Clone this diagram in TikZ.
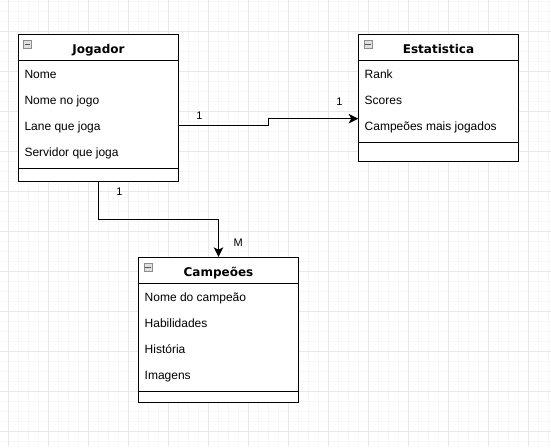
\documentclass[tikz,border=0pt]{standalone}
\usepackage{fontspec}
\setmainfont{Liberation Sans}
\newfontfamily\hdrfont{DejaVu Sans}
\usetikzlibrary{arrows.meta}
\definecolor{gridminor}{HTML}{F7F7F7}
\definecolor{gridmajor}{HTML}{E8E8E8}
\definecolor{iconborder}{HTML}{8C8C8C}
\definecolor{iconfill}{HTML}{E0E0E0}
\definecolor{iconminus}{HTML}{555555}
\begin{document}
\begin{tikzpicture}[x=1pt,y=-1pt,
  classbox/.style={draw=black,line width=1pt,fill=white,inner sep=0pt,minimum width=159.6pt},
  sepline/.style={draw=black,line width=1pt},
  attr/.style={anchor=base west,inner sep=0pt,font=\fontsize{12}{14}\selectfont},
  hdr/.style={anchor=base,inner sep=0pt,font=\hdrfont\bfseries\fontsize{12}{14}\selectfont},
  lbl/.style={inner sep=0pt,font=\fontsize{11}{13}\selectfont},
  conn/.style={draw=black,line width=1pt,-{Stealth[length=9.5pt,width=9.5pt,inset=2.5pt]}},
  icon/.style={draw=iconborder,line width=0.8pt,fill=iconfill,minimum size=8pt,inner sep=0pt,anchor=north west},
  minusline/.style={draw=iconminus,line width=1pt},
  gmin/.style={draw=gridminor,line width=1pt},
  gmaj/.style={draw=gridmajor,line width=1pt}
]
\useasboundingbox (0,0) rectangle (551,447);
\fill[white] (0,0) rectangle (551,447);
% grid
\foreach \k in {0,...,54} \draw[gmin] ({8.3+10*\k},0) -- ({8.3+10*\k},447);
\foreach \k in {0,...,44} \draw[gmin] (0,{1.7+10*\k}) -- (551,{1.7+10*\k});
\foreach \k in {0,...,13} \draw[gmaj] ({8.3+40*\k},0) -- ({8.3+40*\k},447);
\foreach \k in {0,...,10} \draw[gmaj] (0,{31.7+40*\k}) -- (551,{31.7+40*\k});

% Jogador
\node[classbox,minimum height=146.7pt] (jog) at (98.5,107.65) {};
\draw[sepline] (jog.west |- 0,60) -- (jog.east |- 0,60);
\draw[sepline] (jog.west |- 0,168.3) -- (jog.east |- 0,168.3);
\node[icon] (jogicon) at (23.3,40) {};
\draw[minusline] ([xshift=1.8pt]jogicon.west) -- ([xshift=-1.8pt]jogicon.east);
\node[hdr] (jogt) at (98.5,53) {Jogador};
\node[attr] (jog1) at (24.3,78.3) {Nome};
\node[attr] (jog2) at (24.3,104.3) {Nome no jogo};
\node[attr] (jog3) at (24.3,130.3) {Lane que joga};
\node[attr] (jog4) at (24.3,156.3) {Servidor que joga};

% Estatistica
\node[classbox,minimum height=126.7pt] (est) at (438.5,97.65) {};
\draw[sepline] (est.west |- 0,60) -- (est.east |- 0,60);
\draw[sepline] (est.west |- 0,142.3) -- (est.east |- 0,142.3);
\node[icon] (esticon) at (363.5,40) {};
\draw[minusline] ([xshift=1.8pt]esticon.west) -- ([xshift=-1.8pt]esticon.east);
\node[hdr] (estt) at (438.5,53) {Estatistica};
\node[attr] (est1) at (364.5,78.3) {Rank};
\node[attr] (est2) at (364.5,104.3) {Scores};
\node[attr] (est3) at (364.5,130.3) {Campeões mais jogados};

% Campeoes
\node[classbox,minimum height=145pt] (camp) at (218.5,329.8) {};
\draw[sepline] (camp.west |- 0,283.3) -- (camp.east |- 0,283.3);
\draw[sepline] (camp.west |- 0,391) -- (camp.east |- 0,391);
\node[icon] (campicon) at (143.5,263) {};
\draw[minusline] ([xshift=1.8pt]campicon.west) -- ([xshift=-1.8pt]campicon.east);
\node[hdr] (campt) at (218.5,276) {Campeões};
\node[attr] (camp1) at (144.5,301.6) {Nome do campeão};
\node[attr] (camp2) at (144.5,327.6) {Habilidades};
\node[attr] (camp3) at (144.5,353.6) {História};
\node[attr] (camp4) at (144.5,379.6) {Imagens};

% connectors
\coordinate (e1a) at (jog.east |- 0,125);
\coordinate (e1b) at (est.west |- 0,118.7);
\draw[conn] (e1a) -- ++(90,0) |- (e1b);
\draw[conn] (jog.south) -- ++(0,37.7) -| (camp.north);

% labels
\node[lbl] (l1) at (199.5,116) {1};
\node[lbl] (l2) at (339.5,102) {1};
\node[lbl] (l3) at (119.5,191.5) {1};
\node[lbl] (l4) at (238.3,242.3) {M};
\end{tikzpicture}
\end{document}
